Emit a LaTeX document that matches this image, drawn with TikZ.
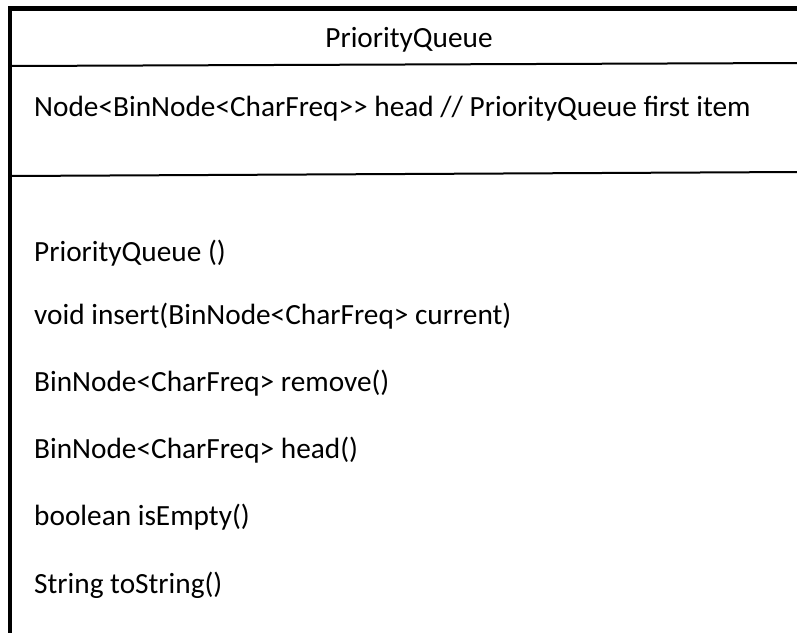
\documentclass[tikz,border=0pt]{standalone}
\usepackage{fontspec}
\setmainfont{Carlito}
\tikzset{
  thickline/.style={line width=4.5pt},
  divline/.style={line width=2pt},
  member/.style={anchor=base west, inner sep=0pt, font=\fontsize{29.3}{34}\selectfont},
  title/.style={anchor=base, inner sep=0pt, font=\fontsize{29.3}{34}\selectfont}
}
\begin{document}
\begin{tikzpicture}[x=1pt,y=-1pt]
\useasboundingbox (0,0) rectangle (797,633);
\coordinate (tl) at (8,8.5);
\coordinate (tr) at (797,8.5);
\coordinate (lt) at (10,6);
\coordinate (lb) at (10,633);
\coordinate (d1l) at (10,66);
\coordinate (d1r) at (797,63);
\coordinate (d2l) at (10,176);
\coordinate (d2r) at (797,172);
\draw[thickline] (tl) -- (tr);
\draw[thickline] (lt) -- (lb);
\draw[divline] (d1l) -- (d1r);
\draw[divline] (d2l) -- (d2r);
\node[title] (name) at (409,47) {PriorityQueue};
\node[member] (attr) at (34,116) {Node<BinNode<CharFreq>{}> head // PriorityQueue first item};
\node[member] (m1) at (34,261) {PriorityQueue ()};
\node[member] (m2) at (34,324) {void insert(BinNode<CharFreq> current)};
\node[member] (m3) at (34,391) {BinNode<CharFreq> remove()};
\node[member] (m4) at (34,458) {BinNode<CharFreq> head()};
\node[member] (m5) at (34,525) {boolean isEmpty()};
\node[member] (m6) at (34,593) {String toString()};
\end{tikzpicture}
\end{document}
